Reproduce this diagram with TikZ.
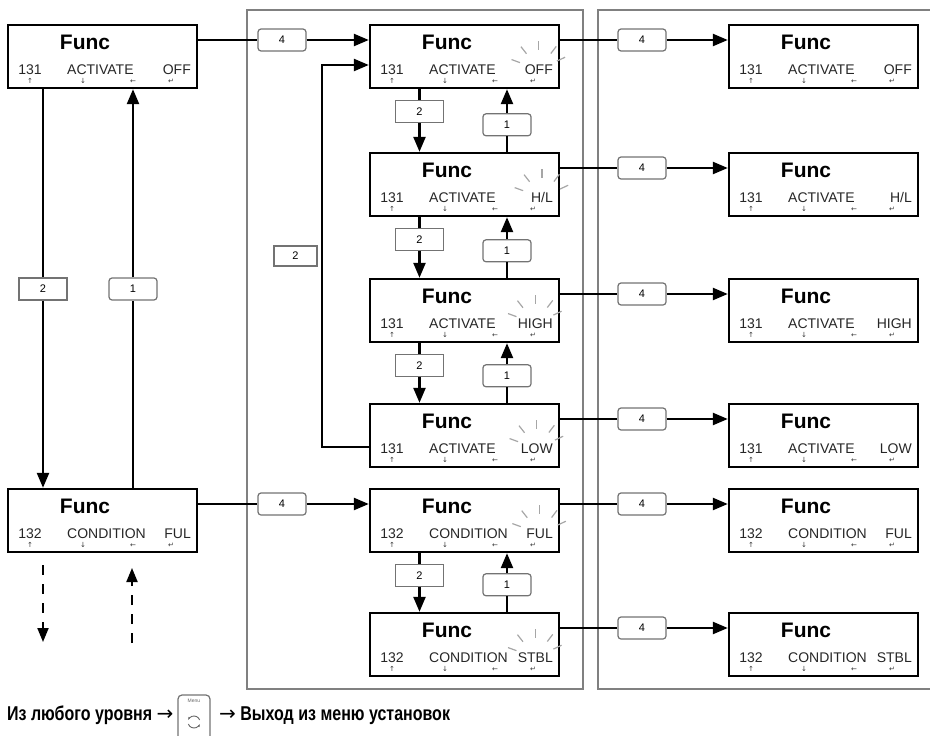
\documentclass[tikz,border=0pt]{standalone}
\usepackage{fontspec}
\setmainfont{Liberation Sans}
\newfontfamily\symfont{DejaVu Sans}
\newfontfamily\narrowfont[FakeStretch=0.8]{Liberation Sans}
\usetikzlibrary{arrows.meta,positioning}

\tikzset{
  lcdbox/.style={draw, line width=2.4pt, minimum width=189pt, minimum height=63pt, inner sep=0pt},
  functxt/.style={font=\bfseries\fontsize{21}{21}\selectfont, inner sep=0pt, text height=15pt, text depth=0pt},
  lbl/.style={font=\fontsize{14}{14}\selectfont, text=black!85, inner sep=0pt, text height=10pt, text depth=0pt},
  sym/.style={font=\symfont\fontsize{7}{7}\selectfont, text=black!80, inner sep=0pt, text height=4.5pt, text depth=0pt},
  keysq/.style={draw=black!55, line width=1.2pt, fill=white, minimum width=48pt, minimum height=22pt, inner sep=0pt, font=\fontsize{11}{11}\selectfont},
  keyrd/.style={keysq, rounded corners=3pt},
  conn/.style={line width=2.4pt, >={Triangle[length=15pt,width=12pt]}},
  dconn/.style={line width=2pt, dash pattern=on 10pt off 9pt, >={Triangle[length=14pt,width=11pt]}},
  ray/.style={draw=black!35, line width=1.2pt},
  panel/.style={draw=black!50, line width=1.3pt},
  note/.style={font=\narrowfont\bfseries\fontsize{20}{20}\selectfont, inner sep=0pt},
  menubtn/.style={draw=black!55, line width=1.2pt, rounded corners=4pt, minimum width=32pt, minimum height=56pt, inner sep=0pt}
}

% display box: name, x, y, code, parameter, value
\newcommand{\lcd}[6]{%
  \node[lcdbox] (#1) at (#2,#3) {};
  \node[functxt] (#1-f) at ([xshift=-17.5pt,yshift=14.5pt]#1.center) {Func};
  \node[lbl] (#1-c) at ([xshift=-72.5pt,yshift=-13pt]#1.center) {#4};
  \node[lbl,anchor=west] (#1-p) at ([xshift=-35.5pt,yshift=-13pt]#1.center) {#5};
  \node[lbl,anchor=east] (#1-v) at ([xshift=88.5pt,yshift=-13pt]#1.center) {#6};
  \node[sym] (#1-a1) at ([xshift=-72.5pt,yshift=-24.5pt]#1.center) {↑};
  \node[sym] (#1-a2) at ([xshift=-19.5pt,yshift=-24.5pt]#1.center) {↓};
  \node[sym] (#1-a3) at ([xshift=30.5pt,yshift=-24.5pt]#1.center) {←};
  \node[sym] (#1-a4) at ([xshift=68.5pt,yshift=-24.5pt]#1.center) {↵};
}
% blinking value
\newcommand{\blink}[1]{%
  \foreach \a in {160,128,90,53,25}
    \draw[ray] ([shift={(\a:20pt)}]#1-v.center) -- ([shift={(\a:29pt)}]#1-v.center);
}

\begin{document}
\begin{tikzpicture}[x=1pt,y=-1pt]
  \useasboundingbox (0,0) rectangle (930,736);
  % panels
  \draw[panel] (247,10) rectangle (583,689);
  \draw[panel] (930,10) -| (598,689) -- (930,689);

  % left column
  \lcd{L1}{102.5}{56.5}{131}{ACTIVATE}{OFF}
  \lcd{L2}{102.5}{520.5}{132}{CONDITION}{FUL}

  % middle column
  \lcd{M1}{464.5}{56.5}{131}{ACTIVATE}{OFF}
  \lcd{M2}{464.5}{184.5}{131}{ACTIVATE}{H/L}
  \lcd{M3}{464.5}{310.5}{131}{ACTIVATE}{HIGH}
  \lcd{M4}{464.5}{435.5}{131}{ACTIVATE}{LOW}
  \lcd{M5}{464.5}{520.5}{132}{CONDITION}{FUL}
  \lcd{M6}{464.5}{644.5}{132}{CONDITION}{STBL}
  \foreach \n in {M1,M2,M3,M4,M5,M6} {\blink{\n}}

  % right column
  \lcd{R1}{823.5}{56.5}{131}{ACTIVATE}{OFF}
  \lcd{R2}{823.5}{184.5}{131}{ACTIVATE}{H/L}
  \lcd{R3}{823.5}{310.5}{131}{ACTIVATE}{HIGH}
  \lcd{R4}{823.5}{435.5}{131}{ACTIVATE}{LOW}
  \lcd{R5}{823.5}{520.5}{132}{CONDITION}{FUL}
  \lcd{R6}{823.5}{644.5}{132}{CONDITION}{STBL}

  % left <-> bottom left
  \node[keysq] (ld) at (43,289) {2};
  \draw[conn] (L1.south -| ld) -- (ld);
  \draw[conn,->] (ld) -- (ld |- L2.north);
  \node[keyrd] (lu) at (133,289) {1};
  \draw[conn] (L2.north -| lu) -- (lu);
  \draw[conn,->] (lu) -- (lu |- L1.south);

  % further levels
  \coordinate (dnbeg) at (43,565);
  \coordinate (dnend) at (43,642);
  \coordinate (upbeg) at (132,643);
  \coordinate (upend) at (132,568);
  \draw[dconn,->] (dnbeg) -- (dnend);
  \draw[dconn,->] (upbeg) -- (upend);

  % left -> middle
  \node[keyrd] (lm1) at (282,40) {4};
  \draw[conn] (L1.east |- lm1) -- (lm1);
  \draw[conn,->] (lm1) -- (M1.west |- lm1);
  \node[keyrd] (lm2) at (282,504) {4};
  \draw[conn] (L2.east |- lm2) -- (lm2);
  \draw[conn,->] (lm2) -- (M5.west |- lm2);

  % middle -> right
  \foreach \n/\y in {1/40,2/168,3/294,4/419,5/504,6/628} {
    \node[keyrd] (k\n) at (642,\y) {4};
    \draw[conn] (M\n.east |- k\n) -- (k\n);
    \draw[conn,->] (k\n) -- (R\n.west |- k\n);
  }

  % up and down inside the middle column
  \foreach \a/\b in {1/2,2/3,3/4,5/6} {
    \node[keysq] (d\a) at ([xshift=-45pt,yshift=-22pt]M\a.south) {2};
    \draw[conn] ([xshift=-45pt]M\a.south) -- (d\a);
    \draw[conn,->] (d\a) -- (d\a |- M\b.north);
    \node[keyrd] (u\a) at ([xshift=42.5pt,yshift=27pt]M\b.north) {1};
    \draw[conn] ([xshift=42.5pt]M\b.north) -- (u\a);
    \draw[conn,->] (u\a) -- (u\a |- M\a.south);
  }

  % back from LOW to OFF
  \draw[conn,->] ([yshift=-11.5pt]M4.west) -- ++(-47,0) |- ([yshift=-8.5pt]M1.west);
  \node[keysq, minimum width=43pt, minimum height=20pt] (lp) at (295.5,256) {2};

  % exit line
  \node[note, anchor=base west] (from) at (7,720) {Из любого уровня {\symfont\mdseries →}};
  \node[menubtn] (menu) at (194,723) {};
  \node[font=\fontsize{5}{5}\selectfont, text=black!60, inner sep=0pt] (menu-t) at (194,701) {Menu};
  \coordinate (menu-i) at (194,722);
  \draw[black!60, line width=0.9pt, ->, >={Stealth[length=3pt]}] ([shift={(20:6pt)}]menu-i) arc[start angle=20, end angle=160, radius=6pt];
  \draw[black!60, line width=0.9pt, ->, >={Stealth[length=3pt]}] ([shift={(200:6pt)}]menu-i) arc[start angle=200, end angle=340, radius=6pt];
  \node[note, anchor=base west] (exit) at (219,720) {{\symfont\mdseries →} Выход из меню установок};
\end{tikzpicture}
\end{document}
